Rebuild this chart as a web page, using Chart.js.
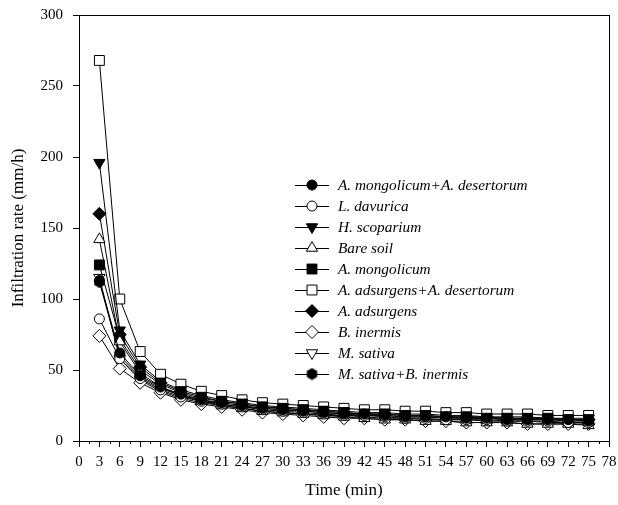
<!DOCTYPE html>
<html>
<head>
<meta charset="utf-8">
<script src="https://cdn.jsdelivr.net/npm/chart.js"></script>
<style>
  html, body { margin: 0; padding: 0; background: #fff; }
  #wrap { width: 618px; height: 505px; position: relative; }
</style>
</head>
<body>
<div id="wrap"><canvas id="grafico"></canvas></div>
<script>
const times = [3, 6, 9, 12, 15, 18, 21, 24, 27, 30, 33, 36, 39, 42, 45, 48, 51, 54, 57, 60, 63, 66, 69, 72, 75];

const names = [
  'A. mongolicum+A. desertorum',
  'L. davurica',
  'H. scoparium',
  'Bare soil',
  'A. mongolicum',
  'A. adsurgens+A. desertorum',
  'A. adsurgens',
  'B. inermis',
  'M. sativa',
  'M. sativa+B. inermis'
];

const mongolicumDesertorum = [113, 62, 46, 38, 33, 29, 27, 25, 23, 22, 21, 20, 19, 19, 18, 17, 17, 17, 16, 16, 15, 15, 15, 15, 14];
const davurica = [86, 58, 44, 36, 31, 28, 26, 24, 22, 21, 20, 19, 18, 18, 17, 16, 16, 15, 15, 15, 14, 14, 14, 13, 13];
const scoparium = [196, 78, 54, 42, 36, 32, 29, 27, 25, 24, 23, 22, 21, 20, 20, 19, 19, 18, 18, 17, 17, 17, 16, 16, 16];
const bareSoil = [142, 70, 48, 38, 32, 28, 25, 23, 21, 20, 19, 18, 17, 16, 15, 15, 14, 14, 13, 13, 13, 12, 12, 12, 11];
const mongolicum = [124, 72, 50, 40, 34, 30, 28, 26, 24, 23, 22, 21, 20, 19, 19, 18, 18, 17, 17, 16, 16, 16, 16, 15, 15];
const adsurgensDesertorum = [268, 100, 63, 47, 40, 35, 32, 29, 27, 26, 25, 24, 23, 22, 22, 21, 21, 20, 20, 19, 19, 19, 18, 18, 18];
const adsurgens = [160, 75, 52, 41, 35, 31, 28, 26, 24, 23, 22, 21, 20, 19, 19, 18, 18, 17, 17, 17, 16, 16, 16, 15, 15];
const inermis = [74, 51, 41, 34, 29, 26, 24, 22, 20, 19, 18, 17, 16, 16, 15, 15, 14, 14, 13, 13, 13, 12, 12, 12, 12];
const sativa = [115, 58, 43, 35, 30, 27, 25, 23, 21, 20, 19, 18, 18, 17, 16, 16, 15, 15, 15, 14, 14, 14, 13, 13, 13];
const sativaInermis = [112, 60, 45, 37, 32, 29, 26, 24, 23, 22, 21, 20, 19, 18, 18, 17, 17, 16, 16, 16, 15, 15, 15, 14, 14];

const xTicks = [0, 3, 6, 9, 12, 15, 18, 21, 24, 27, 30, 33, 36, 39, 42, 45, 48, 51, 54, 57, 60, 63, 66, 69, 72, 75, 78];
const yTicks = [0, 50, 100, 150, 200, 250, 300];

// filled hexagon marker
const hex = document.createElement('canvas');
hex.width = 13; hex.height = 13;
(function () {
  const c = hex.getContext('2d');
  c.beginPath();
  for (let i = 0; i < 6; i++) {
    const a = Math.PI / 2 + i * Math.PI / 3;
    const px = 6.5 + 6 * Math.cos(a), py = 6.5 + 6 * Math.sin(a);
    if (i === 0) c.moveTo(px, py); else c.lineTo(px, py);
  }
  c.closePath();
  c.fillStyle = '#000';
  c.fill();
})();

const styles = [
  { pointStyle: 'circle', radius: 5, fill: '#000', rot: 0 },
  { pointStyle: 'circle', radius: 5, fill: '#fff', rot: 0 },
  { pointStyle: 'triangle', radius: 6.5, fill: '#000', rot: 180 },
  { pointStyle: 'triangle', radius: 6.5, fill: '#fff', rot: 0 },
  { pointStyle: 'rect', radius: 7, fill: '#000', rot: 0 },
  { pointStyle: 'rect', radius: 7, fill: '#fff', rot: 0 },
  { pointStyle: 'rectRot', radius: 6.5, fill: '#000', rot: 0 },
  { pointStyle: 'rectRot', radius: 6.5, fill: '#fff', rot: 0 },
  { pointStyle: 'triangle', radius: 6.5, fill: '#fff', rot: 180 },
  { pointStyle: hex, radius: 6, fill: '#000', rot: 0 }
];

const series = [mongolicumDesertorum, davurica, scoparium, bareSoil, mongolicum,
  adsurgensDesertorum, adsurgens, inermis, sativa, sativaInermis];

const datasets = series.map((vals, i) => ({
  label: names[i],
  data: vals.map((v, j) => ({ x: times[j], y: v })),
  borderColor: '#000',
  borderWidth: 1,
  backgroundColor: styles[i].fill,
  pointStyle: styles[i].pointStyle,
  pointRadius: styles[i].radius,
  pointRotation: styles[i].rot,
  pointBorderColor: '#000',
  pointBorderWidth: 1,
  pointBackgroundColor: styles[i].fill,
  tension: 0
}));

const serif = '"Liberation Serif", "Times New Roman", serif';

const frame = {
  id: 'frame',
  afterDraw(chart) {
    const { ctx, chartArea: a, scales } = chart;
    ctx.save();
    ctx.strokeStyle = '#000';
    ctx.lineWidth = 1;
    ctx.strokeRect(Math.round(a.left) + 0.5, Math.round(a.top) + 0.5,
      Math.round(a.right - a.left), Math.round(a.bottom - a.top));
    // minor ticks on x
    ctx.beginPath();
    for (let v = 1.5; v < 78; v += 3) {
      const px = Math.round(scales.x.getPixelForValue(v)) + 0.5;
      ctx.moveTo(px, a.bottom);
      ctx.lineTo(px, a.bottom + 3);
    }
    ctx.stroke();

    // legend
    const lx = 295, ly = 185, step = 21;
    ctx.font = 'italic 15.3px ' + serif;
    ctx.textBaseline = 'middle';
    ctx.fillStyle = '#000';
    names.forEach((n, i) => {
      const y = ly + i * step;
      ctx.beginPath();
      ctx.moveTo(lx, y + 0.5);
      ctx.lineTo(lx + 34, y + 0.5);
      ctx.stroke();
      const s = styles[i];
      ctx.fillStyle = s.fill;
      Chart.helpers.drawPoint(ctx, {
        pointStyle: s.pointStyle, radius: s.radius, rotation: s.rot, borderWidth: 1
      }, lx + 17, y);
      ctx.fillStyle = '#000';
      ctx.fillText(n, lx + 43, y + 1);
    });
    ctx.restore();
  }
};

const tickFont = { family: serif, size: 15 };
const titleFont = { family: serif, size: 17 };

new Chart(document.getElementById('grafico'), {
  type: 'line',
  data: { datasets },
  options: {
    responsive: true,
    maintainAspectRatio: false,
    animation: false,
    layout: { padding: { top: 15, right: 9, left: 0, bottom: 0 } },
    plugins: { legend: { display: false }, tooltip: { enabled: false } },
    scales: {
      x: {
        type: 'linear',
        min: 0, max: 78,
        afterBuildTicks: s => { s.ticks = xTicks.map(v => ({ value: v })); },
        afterFit: s => { s.height = 64; s.paddingLeft = 0; s.paddingRight = 0; },
        ticks: { color: '#000', font: tickFont, padding: 6, maxRotation: 0, autoSkip: false },
        grid: { drawOnChartArea: false, drawTicks: true, tickLength: 6, color: '#000' },
        border: { color: '#000' },
        title: { display: true, text: 'Time (min)', color: '#000',
          font: titleFont, padding: { top: 7 } }
      },
      y: {
        min: 0, max: 300,
        afterBuildTicks: s => { s.ticks = yTicks.map(v => ({ value: v })); },
        afterFit: s => { s.width = 79; s.paddingTop = 0; s.paddingBottom = 0; },
        ticks: { color: '#000', font: tickFont, padding: 10 },
        grid: { drawOnChartArea: false, drawTicks: true, tickLength: 6, color: '#000' },
        border: { color: '#000' },
        title: { display: true, text: 'Infiltration rate (mm/h)', color: '#000',
          font: titleFont, padding: { top: 8 } }
      }
    }
  },
  plugins: [frame]
});
</script>
</body>
</html>
